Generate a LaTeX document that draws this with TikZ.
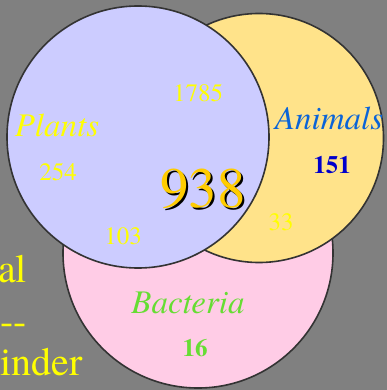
\documentclass[tikz,border=0pt]{standalone}
\usepackage{fontspec}
\setmainfont{texgyretermes}[Extension=.otf,UprightFont=*-regular,ItalicFont=*-italic,BoldFont=*-bold,BoldItalicFont=*-bolditalic]
\usetikzlibrary{positioning}
\definecolor{slate}{HTML}{808080}
\definecolor{plantfill}{HTML}{CCCCFF}
\definecolor{animalfill}{HTML}{FFE38A}
\definecolor{bactfill}{HTML}{FFCCE6}
\definecolor{rim}{HTML}{333333}
\definecolor{lemon}{HTML}{FFFF00}
\definecolor{gold}{HTML}{FFCC00}
\definecolor{sky}{HTML}{0A64D8}
\definecolor{navy}{HTML}{0000CC}
\definecolor{leaf}{HTML}{66DD33}
\tikzset{
  setdisc/.style={circle,draw=rim,line width=1.6pt,inner sep=0pt,minimum size=#1},
  setname/.style={anchor=base,inner sep=0pt,font=\fontsize{33}{36}\selectfont\itshape},
  count/.style={anchor=base,inner sep=0pt,font=\fontsize{25}{28}\selectfont},
  boldcount/.style={count,font=\fontsize{25}{28}\selectfont\bfseries},
  slideline/.style={anchor=base west,inner sep=0pt,text=lemon,font=\fontsize{40}{44}\selectfont},
}
\begin{document}
\begin{tikzpicture}[x=1pt,y=-1pt]
  \fill[slate] (0,0) rectangle (387,390);
  \useasboundingbox (0,0) rectangle (387,390);
  % discs, lowest one first
  \foreach \name/\cx/\cy/\d/\col in {bacteria/198/253/270/bactfill, animals/259/138/249/animalfill, plants/138/137/262/plantfill}{
    \node[setdisc=\d pt,fill=\col] (\name) at (\cx,\cy) {};
  }
  % set names and counts
  \node[setname,text=lemon] (plantsname) at (57,136) {Plants};
  \node[count,text=lemon] (plantsall) at (198,102) {1785};
  \node[count,text=lemon] (plantsonly) at (58,180) {254};
  \node[count,text=lemon] (plantsbact) at (123,244) {103};
  \node[setname,text=sky] (animalsname) at (329,130) {Animals};
  \node[boldcount,text=navy] (animalsonly) at (332,173) {151};
  \node[count,text=lemon] (animalsbact) at (281,230) {33};
  \node[setname,text=leaf] (bactname) at (188,313) {Bacteria};
  \node[boldcount,text=leaf] (bactonly) at (195,356) {16};
  % shared core, with shadow
  \node[anchor=base,inner sep=0pt,font=\fontsize{57}{60}\selectfont] (coreshadow) at (205,209) {938};
  \node[anchor=base,inner sep=0pt,text=gold,font=\fontsize{57}{60}\selectfont] (core) at (203,207) {938};
  % slide text cut at the left edge
  \node[slideline] (lineone) at (-2,282) {al};
  \node[slideline] (linetwo) at (0,334) {-{}-};
  \node[slideline] (linethree) at (0,375) {inder};
\end{tikzpicture}
\end{document}
